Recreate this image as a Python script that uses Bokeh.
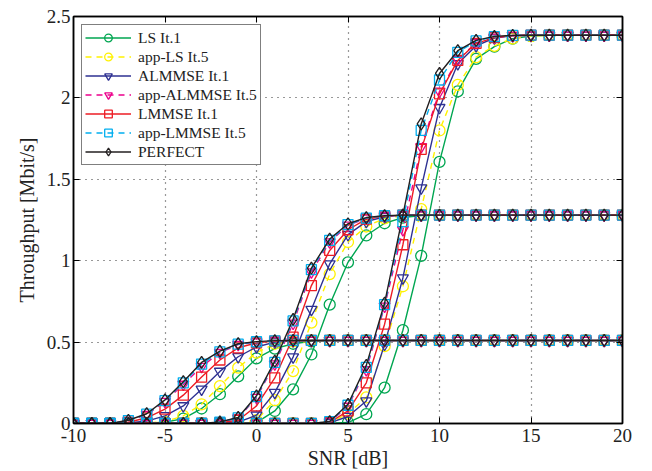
from bokeh.plotting import figure
from bokeh.models import FixedTicker, Legend, LegendItem, LinearAxis, Range1d
from bokeh.embed import file_html
from bokeh.resources import INLINE

snr = list(range(-10, 21))

x_ticks = [-10, -5, 0, 5, 10, 15, 20]
x_tick_labels = ["-10", "-5", "0", "5", "10", "15", "20"]
y_ticks = [0, 0.5, 1, 1.5, 2, 2.5]
y_tick_labels = ["0", "0.5", "1", "1.5", "2", "2.5"]

# group A (low-rate curves, saturate ~0.51)
ls_a = [0, 0, 0, 0, 0.002, 0.008, 0.03, 0.092, 0.18, 0.29, 0.40, 0.46, 0.49, 0.505, 0.51,
        0.51, 0.51, 0.51, 0.51, 0.51, 0.51, 0.51, 0.51, 0.51, 0.51, 0.51, 0.51, 0.51, 0.51, 0.51, 0.51]
appls_a = [0, 0, 0, 0, 0.004, 0.012, 0.047, 0.118, 0.23, 0.343, 0.435, 0.49, 0.505, 0.51,
           0.51, 0.51, 0.51, 0.51, 0.51, 0.51, 0.51, 0.51, 0.51, 0.51, 0.51, 0.51, 0.51, 0.51, 0.51, 0.51, 0.51]
almmse_a = [0, 0, 0, 0.003, 0.015, 0.047, 0.108, 0.21, 0.32, 0.41, 0.47, 0.50, 0.508,
            0.51, 0.51, 0.51, 0.51, 0.51, 0.51, 0.51, 0.51, 0.51, 0.51, 0.51, 0.51, 0.51, 0.51, 0.51, 0.51, 0.51, 0.51]
appalmmse_a = [0, 0, 0, 0.017, 0.055, 0.135, 0.24, 0.35, 0.435, 0.485, 0.50, 0.508,
               0.51, 0.51, 0.51, 0.51, 0.51, 0.51, 0.51, 0.51, 0.51, 0.51, 0.51, 0.51, 0.51, 0.51, 0.51, 0.51, 0.51, 0.51, 0.51]
lmmse_a = [0, 0, 0, 0.008, 0.035, 0.088, 0.174, 0.285, 0.39, 0.465, 0.495, 0.506,
           0.51, 0.51, 0.51, 0.51, 0.51, 0.51, 0.51, 0.51, 0.51, 0.51, 0.51, 0.51, 0.51, 0.51, 0.51, 0.51, 0.51, 0.51, 0.51]
applmmse_a = [0, 0, 0, 0.018, 0.057, 0.14, 0.25, 0.365, 0.44, 0.487, 0.502, 0.508,
              0.51, 0.51, 0.51, 0.51, 0.51, 0.51, 0.51, 0.51, 0.51, 0.51, 0.51, 0.51, 0.51, 0.51, 0.51, 0.51, 0.51, 0.51, 0.51]
perfect_a = [0, 0, 0, 0.02, 0.06, 0.145, 0.257, 0.375, 0.445, 0.49, 0.503, 0.509,
             0.51, 0.51, 0.51, 0.51, 0.51, 0.51, 0.51, 0.51, 0.51, 0.51, 0.51, 0.51, 0.51, 0.51, 0.51, 0.51, 0.51, 0.51, 0.51]

# group B (mid-rate curves, saturate ~1.28)
ls_b = [0, 0, 0, 0, 0, 0, 0, 0, 0, 0, 0.005, 0.077, 0.21, 0.424, 0.73, 0.99, 1.155, 1.23, 1.265, 1.278,
        1.28, 1.28, 1.28, 1.28, 1.28, 1.28, 1.28, 1.28, 1.28, 1.28, 1.28]
appls_b = [0, 0, 0, 0, 0, 0, 0, 0, 0, 0.004, 0.02, 0.143, 0.322, 0.62, 0.918, 1.115, 1.21, 1.26, 1.278,
           1.28, 1.28, 1.28, 1.28, 1.28, 1.28, 1.28, 1.28, 1.28, 1.28, 1.28, 1.28]
almmse_b = [0, 0, 0, 0, 0, 0, 0, 0, 0, 0.008, 0.051, 0.19, 0.408, 0.70, 0.98, 1.16, 1.24, 1.27,
            1.28, 1.28, 1.28, 1.28, 1.28, 1.28, 1.28, 1.28, 1.28, 1.28, 1.28, 1.28, 1.28]
appalmmse_b = [0, 0, 0, 0, 0, 0, 0, 0, 0.008, 0.033, 0.16, 0.365, 0.615, 0.93, 1.115, 1.218, 1.26, 1.275,
               1.28, 1.28, 1.28, 1.28, 1.28, 1.28, 1.28, 1.28, 1.28, 1.28, 1.28, 1.28, 1.28]
lmmse_b = [0, 0, 0, 0, 0, 0, 0, 0, 0.005, 0.02, 0.108, 0.28, 0.53, 0.847, 1.063, 1.19, 1.255, 1.274,
           1.28, 1.28, 1.28, 1.28, 1.28, 1.28, 1.28, 1.28, 1.28, 1.28, 1.28, 1.28, 1.28]
applmmse_b = [0, 0, 0, 0, 0, 0, 0, 0, 0.009, 0.035, 0.165, 0.375, 0.63, 0.945, 1.125, 1.222, 1.262, 1.276,
              1.28, 1.28, 1.28, 1.28, 1.28, 1.28, 1.28, 1.28, 1.28, 1.28, 1.28, 1.28, 1.28]
perfect_b = [0, 0, 0, 0, 0, 0, 0, 0, 0.01, 0.037, 0.17, 0.383, 0.64, 0.955, 1.133, 1.227, 1.265, 1.277,
             1.28, 1.28, 1.28, 1.28, 1.28, 1.28, 1.28, 1.28, 1.28, 1.28, 1.28, 1.28, 1.28]

# group C (high-rate curves, saturate ~2.385)
ls_c = [0, 0, 0, 0, 0, 0, 0, 0, 0, 0, 0, 0, 0, 0, 0.002, 0.006, 0.057, 0.22, 0.573, 1.03, 1.607,
        2.04, 2.24, 2.315, 2.364, 2.38, 2.385, 2.385, 2.385, 2.385, 2.385]
appls_c = [0, 0, 0, 0, 0, 0, 0, 0, 0, 0, 0, 0, 0, 0, 0.004, 0.06, 0.16, 0.475, 0.843, 1.317, 1.80,
           2.08, 2.25, 2.32, 2.365, 2.38, 2.385, 2.385, 2.385, 2.385, 2.385]
almmse_c = [0, 0, 0, 0, 0, 0, 0, 0, 0, 0, 0, 0, 0, 0, 0.004, 0.043, 0.138, 0.486, 0.894, 1.446, 1.94,
            2.21, 2.32, 2.368, 2.382, 2.385, 2.385, 2.385, 2.385, 2.385, 2.385]
appalmmse_c = [0, 0, 0, 0, 0, 0, 0, 0, 0, 0, 0, 0, 0, 0, 0.01, 0.105, 0.33, 0.72, 1.19, 1.70, 2.04,
               2.235, 2.338, 2.372, 2.383, 2.385, 2.385, 2.385, 2.385, 2.385, 2.385]
lmmse_c = [0, 0, 0, 0, 0, 0, 0, 0, 0, 0, 0, 0, 0, 0, 0.006, 0.077, 0.25, 0.61, 1.098, 1.684, 2.025,
           2.23, 2.335, 2.37, 2.383, 2.385, 2.385, 2.385, 2.385, 2.385, 2.385]
applmmse_c = [0, 0, 0, 0, 0, 0, 0, 0, 0, 0, 0, 0, 0, 0, 0.011, 0.112, 0.345, 0.73, 1.24, 1.80, 2.11,
              2.28, 2.35, 2.376, 2.384, 2.385, 2.385, 2.385, 2.385, 2.385, 2.385]
perfect_c = [0, 0, 0, 0, 0, 0, 0, 0, 0, 0, 0, 0, 0, 0, 0.012, 0.118, 0.357, 0.74, 1.28, 1.84, 2.15,
             2.29, 2.353, 2.378, 2.384, 2.385, 2.385, 2.385, 2.385, 2.385, 2.385]

labels = ["LS It.1", "app-LS It.5", "ALMMSE It.1", "app-ALMMSE It.5",
          "LMMSE It.1", "app-LMMSE It.5", "PERFECT"]
groups = [
    [ls_a, ls_b, ls_c],
    [appls_a, appls_b, appls_c],
    [almmse_a, almmse_b, almmse_c],
    [appalmmse_a, appalmmse_b, appalmmse_c],
    [lmmse_a, lmmse_b, lmmse_c],
    [applmmse_a, applmmse_b, applmmse_c],
    [perfect_a, perfect_b, perfect_c],
]
colors = ["#00a651", "#fff200", "#2e3192", "#ec008c", "#ed1c24", "#00aeef", "#231f20"]
markers = ["circle", "circle", "inverted_triangle", "inverted_triangle", "square", "square", "diamond"]
marker_sizes = [11, 11, 11, 11, 10, 10, 12]
dashes = ["solid", "6 5", "solid", "6 5", "solid", "6 5", "solid"]

FONT = "Liberation Serif"

p = figure(width=652, height=471, x_range=Range1d(-10, 20), y_range=Range1d(0, 2.5),
           output_backend="svg", toolbar_location=None,
           min_border_left=73, min_border_right=30, min_border_top=16, min_border_bottom=47)

p.outline_line_color = "black"
p.outline_line_width = 1.5
p.background_fill_color = "white"
p.border_fill_color = "white"

xt = FixedTicker(ticks=x_ticks)
yt = FixedTicker(ticks=y_ticks)
p.xaxis.ticker = xt
p.yaxis.ticker = yt
p.xgrid.ticker = xt
p.ygrid.ticker = yt
p.xaxis.major_label_overrides = dict(zip(x_ticks, x_tick_labels))
p.yaxis.major_label_overrides = dict(zip(y_ticks, y_tick_labels))

for ax in (p.xaxis, p.yaxis):
    ax.major_tick_in = 6
    ax.major_tick_out = 0
    ax.minor_tick_line_color = None
    ax.axis_line_width = 1.5
    ax.axis_line_color = "black"
    ax.major_tick_line_color = "black"
    ax.major_label_text_font = FONT
    ax.major_label_text_font_size = "19px"
    ax.major_label_text_color = "#222222"
    ax.axis_label_text_font = FONT
    ax.axis_label_text_font_size = "20px"
    ax.axis_label_text_font_style = "normal"
    ax.axis_label_text_color = "#222222"
    ax.major_label_standoff = 5
    ax.axis_label_standoff = 2

p.xaxis.axis_label = "SNR [dB]"
p.yaxis.axis_label = "Throughput [Mbit/s]"
p.yaxis.major_label_standoff = 3
p.yaxis.axis_label_standoff = 6

for g in (p.xgrid, p.ygrid):
    g.grid_line_color = "#333333"
    g.grid_line_dash = "1 5"
    g.grid_line_width = 1.2

top_ax = LinearAxis(ticker=xt, major_label_text_font_size="0px", major_tick_in=6,
                    major_tick_out=0, minor_tick_line_color=None, axis_line_width=1.5,
                    major_label_standoff=0)
right_ax = LinearAxis(ticker=yt, major_label_text_font_size="0px", major_tick_in=6,
                      major_tick_out=0, minor_tick_line_color=None, axis_line_width=1.5,
                      major_label_standoff=0)
p.add_layout(top_ax, "above")
p.add_layout(right_ax, "right")

items = []
for lab, grp, col, mk, ms, dash in zip(labels, groups, colors, markers, marker_sizes, dashes):
    rends = []
    for k, ys in enumerate(grp):
        lr = p.line(snr, ys, line_color=col, line_width=1.4, line_dash=dash)
        sr = p.scatter(snr, ys, marker=mk, size=ms, line_color=col, line_width=1.3,
                       fill_color=None)
        if k == 0:
            rends = [lr, sr]
    items.append(LegendItem(label=lab, renderers=rends))

legend = Legend(items=items, location="top_left")
legend.margin = 8
legend.padding = 3
legend.spacing = 0
legend.label_height = 19
legend.glyph_height = 19
legend.glyph_width = 46
legend.label_standoff = 7
legend.label_text_font = FONT
legend.label_text_font_size = "15.5px"
legend.label_text_color = "#222222"
legend.border_line_color = "black"
legend.border_line_width = 1.5
legend.background_fill_color = "white"
legend.background_fill_alpha = 1.0
p.add_layout(legend, "center")

open("out.html", "w").write(file_html(p, INLINE))
